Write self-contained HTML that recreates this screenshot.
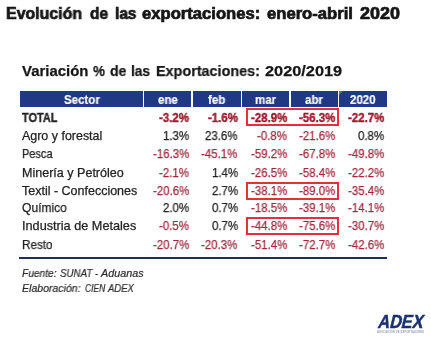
<!DOCTYPE html>
<html><head><meta charset="utf-8">
<style>
html,body{margin:0;padding:0;background:#fff;}
body{width:431px;height:343px;position:relative;overflow:hidden;font-family:"Liberation Sans",sans-serif;}
span{position:absolute;white-space:nowrap;line-height:1;transform-origin:0 0;will-change:transform;}
.hb{position:absolute;top:91px;height:16px;background:#1f3985;}
.rb{position:absolute;box-sizing:border-box;border:2px solid #e3303a;}
.bl{position:absolute;left:19px;top:256.5px;width:368px;height:2px;background:#1e2d5c;}
.gt{position:absolute;left:339px;top:91px;width:0;height:0;border-top:4px solid #2e9a3a;border-right:4px solid transparent;}
</style></head><body>
<div class="hb" style="left:20px;width:122.5px"></div><div class="hb" style="left:144px;width:47px"></div><div class="hb" style="left:192.5px;width:48.0px"></div><div class="hb" style="left:242px;width:47px"></div><div class="hb" style="left:290.5px;width:47.0px"></div><div class="hb" style="left:339px;width:48px"></div>
<div class="gt"></div>
<div class="bl"></div>
<div class="rb" style="left:245.7px;top:108.0px;width:93.10000000000002px;height:18.0px"></div><div class="rb" style="left:245.7px;top:182.0px;width:93.10000000000002px;height:17.5px"></div><div class="rb" style="left:245.7px;top:217.0px;width:93.10000000000002px;height:17.69999999999999px"></div>
<span style="left:6.00px;top:6.15px;font-size:16.00px;font-weight:bold;font-style:normal;color:#161616;letter-spacing:0px;transform:scaleX(0.9941);-webkit-text-stroke:0.7px #161616">Evolución</span><span style="left:89.70px;top:6.15px;font-size:16.00px;font-weight:bold;font-style:normal;color:#161616;letter-spacing:0px;transform:scaleX(0.9694);-webkit-text-stroke:0.7px #161616">de</span><span style="left:115.00px;top:6.15px;font-size:16.00px;font-weight:bold;font-style:normal;color:#161616;letter-spacing:0px;transform:scaleX(0.9622);-webkit-text-stroke:0.7px #161616">las</span><span style="left:142.00px;top:6.15px;font-size:16.00px;font-weight:bold;font-style:normal;color:#161616;letter-spacing:0px;transform:scaleX(1.0386);-webkit-text-stroke:0.7px #161616">exportaciones:</span><span style="left:266.90px;top:6.15px;font-size:16.00px;font-weight:bold;font-style:normal;color:#161616;letter-spacing:0px;transform:scaleX(1.0388);-webkit-text-stroke:0.7px #161616">enero-abril</span><span style="left:360.20px;top:6.15px;font-size:16.00px;font-weight:bold;font-style:normal;color:#161616;letter-spacing:0px;transform:scaleX(1.1236);-webkit-text-stroke:0.7px #161616">2020</span><span style="left:22.40px;top:64.06px;font-size:14.80px;font-weight:bold;font-style:normal;color:#161616;letter-spacing:0px;transform:scaleX(1.0089);-webkit-text-stroke:0.25px #1c1c1c">Variación</span><span style="left:93.30px;top:64.06px;font-size:14.80px;font-weight:bold;font-style:normal;color:#161616;letter-spacing:0px;transform:scaleX(0.9044);-webkit-text-stroke:0.25px #1c1c1c">%</span><span style="left:109.70px;top:64.06px;font-size:14.80px;font-weight:bold;font-style:normal;color:#161616;letter-spacing:0px;transform:scaleX(0.9495);-webkit-text-stroke:0.25px #1c1c1c">de</span><span style="left:130.60px;top:64.06px;font-size:14.80px;font-weight:bold;font-style:normal;color:#161616;letter-spacing:0px;transform:scaleX(0.9284);-webkit-text-stroke:0.25px #1c1c1c">las</span><span style="left:155.70px;top:64.06px;font-size:14.80px;font-weight:bold;font-style:normal;color:#161616;letter-spacing:0px;transform:scaleX(0.9718);-webkit-text-stroke:0.25px #1c1c1c">Exportaciones:</span><span style="left:264.80px;top:64.06px;font-size:14.80px;font-weight:bold;font-style:normal;color:#161616;letter-spacing:0px;transform:scaleX(1.1035);-webkit-text-stroke:0.25px #1c1c1c">2020/2019</span><span style="left:63.62px;top:93.84px;font-size:12.00px;font-weight:bold;font-style:normal;color:#ffffff;letter-spacing:0px;transform:scaleX(0.9600);-webkit-text-stroke:0.15px #fff">Sector</span><span style="left:157.88px;top:93.84px;font-size:12.00px;font-weight:bold;font-style:normal;color:#ffffff;letter-spacing:0px;transform:scaleX(0.9600);-webkit-text-stroke:0.15px #fff">ene</span><span style="left:208.16px;top:93.84px;font-size:12.00px;font-weight:bold;font-style:normal;color:#ffffff;letter-spacing:0px;transform:scaleX(0.9600);-webkit-text-stroke:0.15px #fff">feb</span><span style="left:255.24px;top:93.84px;font-size:12.00px;font-weight:bold;font-style:normal;color:#ffffff;letter-spacing:0px;transform:scaleX(0.9600);-webkit-text-stroke:0.15px #fff">mar</span><span style="left:305.34px;top:93.84px;font-size:12.00px;font-weight:bold;font-style:normal;color:#ffffff;letter-spacing:0px;transform:scaleX(0.9600);-webkit-text-stroke:0.15px #fff">abr</span><span style="left:350.48px;top:93.84px;font-size:12.00px;font-weight:bold;font-style:normal;color:#ffffff;letter-spacing:0px;transform:scaleX(0.9600);-webkit-text-stroke:0.15px #fff">2020</span><span style="left:21.80px;top:111.85px;font-size:12.10px;font-weight:bold;font-style:normal;color:#222222;letter-spacing:0px;transform:scaleX(0.9055);-webkit-text-stroke:0.35px #222222">TOTAL</span><span style="left:159.18px;top:111.85px;font-size:12.10px;font-weight:bold;font-style:normal;color:#9c1429;letter-spacing:0px;transform:scaleX(0.9500);-webkit-text-stroke:0.35px #9c1429">-3.2%</span><span style="left:207.78px;top:111.85px;font-size:12.10px;font-weight:bold;font-style:normal;color:#9c1429;letter-spacing:0px;transform:scaleX(0.9500);-webkit-text-stroke:0.35px #9c1429">-1.6%</span><span style="left:250.58px;top:111.85px;font-size:12.10px;font-weight:bold;font-style:normal;color:#9c1429;letter-spacing:0px;transform:scaleX(0.9500);-webkit-text-stroke:0.35px #9c1429">-28.9%</span><span style="left:298.98px;top:111.85px;font-size:12.10px;font-weight:bold;font-style:normal;color:#9c1429;letter-spacing:0px;transform:scaleX(0.9500);-webkit-text-stroke:0.35px #9c1429">-56.3%</span><span style="left:347.58px;top:111.85px;font-size:12.10px;font-weight:bold;font-style:normal;color:#9c1429;letter-spacing:0px;transform:scaleX(0.9500);-webkit-text-stroke:0.35px #9c1429">-22.7%</span><span style="left:22.00px;top:130.05px;font-size:12.10px;font-weight:normal;font-style:normal;color:#222222;letter-spacing:0px;transform:scaleX(1.0294);-webkit-text-stroke:0.25px #222222">Agro y forestal</span><span style="left:163.00px;top:130.05px;font-size:12.10px;font-weight:normal;font-style:normal;color:#222222;letter-spacing:0px;transform:scaleX(0.9500);-webkit-text-stroke:0.25px #222222">1.3%</span><span style="left:205.21px;top:130.05px;font-size:12.10px;font-weight:normal;font-style:normal;color:#222222;letter-spacing:0px;transform:scaleX(0.9500);-webkit-text-stroke:0.25px #222222">23.6%</span><span style="left:256.98px;top:130.05px;font-size:12.10px;font-weight:normal;font-style:normal;color:#9c2a3e;letter-spacing:0px;transform:scaleX(0.9500);-webkit-text-stroke:0.25px #9c2a3e">-0.8%</span><span style="left:298.98px;top:130.05px;font-size:12.10px;font-weight:normal;font-style:normal;color:#9c2a3e;letter-spacing:0px;transform:scaleX(0.9500);-webkit-text-stroke:0.25px #9c2a3e">-21.6%</span><span style="left:357.80px;top:130.05px;font-size:12.10px;font-weight:normal;font-style:normal;color:#222222;letter-spacing:0px;transform:scaleX(0.9500);-webkit-text-stroke:0.25px #222222">0.8%</span><span style="left:22.00px;top:147.95px;font-size:12.10px;font-weight:normal;font-style:normal;color:#222222;letter-spacing:0px;transform:scaleX(0.9067);-webkit-text-stroke:0.25px #222222">Pesca</span><span style="left:152.78px;top:147.95px;font-size:12.10px;font-weight:normal;font-style:normal;color:#9c2a3e;letter-spacing:0px;transform:scaleX(0.9500);-webkit-text-stroke:0.25px #9c2a3e">-16.3%</span><span style="left:201.38px;top:147.95px;font-size:12.10px;font-weight:normal;font-style:normal;color:#9c2a3e;letter-spacing:0px;transform:scaleX(0.9500);-webkit-text-stroke:0.25px #9c2a3e">-45.1%</span><span style="left:250.58px;top:147.95px;font-size:12.10px;font-weight:normal;font-style:normal;color:#9c2a3e;letter-spacing:0px;transform:scaleX(0.9500);-webkit-text-stroke:0.25px #9c2a3e">-59.2%</span><span style="left:298.98px;top:147.95px;font-size:12.10px;font-weight:normal;font-style:normal;color:#9c2a3e;letter-spacing:0px;transform:scaleX(0.9500);-webkit-text-stroke:0.25px #9c2a3e">-67.8%</span><span style="left:347.58px;top:147.95px;font-size:12.10px;font-weight:normal;font-style:normal;color:#9c2a3e;letter-spacing:0px;transform:scaleX(0.9500);-webkit-text-stroke:0.25px #9c2a3e">-49.8%</span><span style="left:22.00px;top:166.75px;font-size:12.10px;font-weight:normal;font-style:normal;color:#222222;letter-spacing:0px;transform:scaleX(1.0367);-webkit-text-stroke:0.25px #222222">Minería y Petróleo</span><span style="left:159.18px;top:166.75px;font-size:12.10px;font-weight:normal;font-style:normal;color:#9c2a3e;letter-spacing:0px;transform:scaleX(0.9500);-webkit-text-stroke:0.25px #9c2a3e">-2.1%</span><span style="left:211.60px;top:166.75px;font-size:12.10px;font-weight:normal;font-style:normal;color:#222222;letter-spacing:0px;transform:scaleX(0.9500);-webkit-text-stroke:0.25px #222222">1.4%</span><span style="left:250.58px;top:166.75px;font-size:12.10px;font-weight:normal;font-style:normal;color:#9c2a3e;letter-spacing:0px;transform:scaleX(0.9500);-webkit-text-stroke:0.25px #9c2a3e">-26.5%</span><span style="left:298.98px;top:166.75px;font-size:12.10px;font-weight:normal;font-style:normal;color:#9c2a3e;letter-spacing:0px;transform:scaleX(0.9500);-webkit-text-stroke:0.25px #9c2a3e">-58.4%</span><span style="left:347.58px;top:166.75px;font-size:12.10px;font-weight:normal;font-style:normal;color:#9c2a3e;letter-spacing:0px;transform:scaleX(0.9500);-webkit-text-stroke:0.25px #9c2a3e">-22.2%</span><span style="left:22.00px;top:184.95px;font-size:12.10px;font-weight:normal;font-style:normal;color:#222222;letter-spacing:0px;transform:scaleX(1.0328);-webkit-text-stroke:0.25px #222222">Textil - Confecciones</span><span style="left:152.78px;top:184.95px;font-size:12.10px;font-weight:normal;font-style:normal;color:#9c2a3e;letter-spacing:0px;transform:scaleX(0.9500);-webkit-text-stroke:0.25px #9c2a3e">-20.6%</span><span style="left:211.60px;top:184.95px;font-size:12.10px;font-weight:normal;font-style:normal;color:#222222;letter-spacing:0px;transform:scaleX(0.9500);-webkit-text-stroke:0.25px #222222">2.7%</span><span style="left:250.58px;top:184.95px;font-size:12.10px;font-weight:normal;font-style:normal;color:#9c2a3e;letter-spacing:0px;transform:scaleX(0.9500);-webkit-text-stroke:0.25px #9c2a3e">-38.1%</span><span style="left:298.98px;top:184.95px;font-size:12.10px;font-weight:normal;font-style:normal;color:#9c2a3e;letter-spacing:0px;transform:scaleX(0.9500);-webkit-text-stroke:0.25px #9c2a3e">-89.0%</span><span style="left:347.58px;top:184.95px;font-size:12.10px;font-weight:normal;font-style:normal;color:#9c2a3e;letter-spacing:0px;transform:scaleX(0.9500);-webkit-text-stroke:0.25px #9c2a3e">-35.4%</span><span style="left:22.00px;top:202.25px;font-size:12.10px;font-weight:normal;font-style:normal;color:#222222;letter-spacing:0px;transform:scaleX(0.9945);-webkit-text-stroke:0.25px #222222">Químico</span><span style="left:163.00px;top:202.25px;font-size:12.10px;font-weight:normal;font-style:normal;color:#222222;letter-spacing:0px;transform:scaleX(0.9500);-webkit-text-stroke:0.25px #222222">2.0%</span><span style="left:211.60px;top:202.25px;font-size:12.10px;font-weight:normal;font-style:normal;color:#222222;letter-spacing:0px;transform:scaleX(0.9500);-webkit-text-stroke:0.25px #222222">0.7%</span><span style="left:250.58px;top:202.25px;font-size:12.10px;font-weight:normal;font-style:normal;color:#9c2a3e;letter-spacing:0px;transform:scaleX(0.9500);-webkit-text-stroke:0.25px #9c2a3e">-18.5%</span><span style="left:298.98px;top:202.25px;font-size:12.10px;font-weight:normal;font-style:normal;color:#9c2a3e;letter-spacing:0px;transform:scaleX(0.9500);-webkit-text-stroke:0.25px #9c2a3e">-39.1%</span><span style="left:347.58px;top:202.25px;font-size:12.10px;font-weight:normal;font-style:normal;color:#9c2a3e;letter-spacing:0px;transform:scaleX(0.9500);-webkit-text-stroke:0.25px #9c2a3e">-14.1%</span><span style="left:22.00px;top:219.55px;font-size:12.10px;font-weight:normal;font-style:normal;color:#222222;letter-spacing:0px;transform:scaleX(1.0490);-webkit-text-stroke:0.25px #222222">Industria de Metales</span><span style="left:159.18px;top:219.55px;font-size:12.10px;font-weight:normal;font-style:normal;color:#9c2a3e;letter-spacing:0px;transform:scaleX(0.9500);-webkit-text-stroke:0.25px #9c2a3e">-0.5%</span><span style="left:211.60px;top:219.55px;font-size:12.10px;font-weight:normal;font-style:normal;color:#222222;letter-spacing:0px;transform:scaleX(0.9500);-webkit-text-stroke:0.25px #222222">0.7%</span><span style="left:250.58px;top:219.55px;font-size:12.10px;font-weight:normal;font-style:normal;color:#9c2a3e;letter-spacing:0px;transform:scaleX(0.9500);-webkit-text-stroke:0.25px #9c2a3e">-44.8%</span><span style="left:298.98px;top:219.55px;font-size:12.10px;font-weight:normal;font-style:normal;color:#9c2a3e;letter-spacing:0px;transform:scaleX(0.9500);-webkit-text-stroke:0.25px #9c2a3e">-75.6%</span><span style="left:347.58px;top:219.55px;font-size:12.10px;font-weight:normal;font-style:normal;color:#9c2a3e;letter-spacing:0px;transform:scaleX(0.9500);-webkit-text-stroke:0.25px #9c2a3e">-30.7%</span><span style="left:22.20px;top:238.55px;font-size:12.10px;font-weight:normal;font-style:normal;color:#222222;letter-spacing:0px;transform:scaleX(0.9682);-webkit-text-stroke:0.25px #222222">Resto</span><span style="left:152.78px;top:238.55px;font-size:12.10px;font-weight:normal;font-style:normal;color:#9c2a3e;letter-spacing:0px;transform:scaleX(0.9500);-webkit-text-stroke:0.25px #9c2a3e">-20.7%</span><span style="left:201.38px;top:238.55px;font-size:12.10px;font-weight:normal;font-style:normal;color:#9c2a3e;letter-spacing:0px;transform:scaleX(0.9500);-webkit-text-stroke:0.25px #9c2a3e">-20.3%</span><span style="left:250.58px;top:238.55px;font-size:12.10px;font-weight:normal;font-style:normal;color:#9c2a3e;letter-spacing:0px;transform:scaleX(0.9500);-webkit-text-stroke:0.25px #9c2a3e">-51.4%</span><span style="left:298.98px;top:238.55px;font-size:12.10px;font-weight:normal;font-style:normal;color:#9c2a3e;letter-spacing:0px;transform:scaleX(0.9500);-webkit-text-stroke:0.25px #9c2a3e">-72.7%</span><span style="left:347.58px;top:238.55px;font-size:12.10px;font-weight:normal;font-style:normal;color:#9c2a3e;letter-spacing:0px;transform:scaleX(0.9500);-webkit-text-stroke:0.25px #9c2a3e">-42.6%</span><span style="left:22.00px;top:268.11px;font-size:10.50px;font-weight:normal;font-style:italic;color:#2a2a2a;letter-spacing:0px;transform:scaleX(0.9718);-webkit-text-stroke:0.2px #2a2a2a">Fuente:</span><span style="left:60.10px;top:268.11px;font-size:10.50px;font-weight:normal;font-style:italic;color:#2a2a2a;letter-spacing:0px;transform:scaleX(0.9258);-webkit-text-stroke:0.2px #2a2a2a">SUNAT</span><span style="left:95.00px;top:268.11px;font-size:10.50px;font-weight:normal;font-style:italic;color:#2a2a2a;letter-spacing:0px;transform:scaleX(0.8294);-webkit-text-stroke:0.2px #2a2a2a">-</span><span style="left:101.44px;top:268.11px;font-size:10.50px;font-weight:normal;font-style:italic;color:#2a2a2a;letter-spacing:0px;transform:scaleX(1.0267);-webkit-text-stroke:0.2px #2a2a2a">Aduanas</span><span style="left:22.00px;top:282.72px;font-size:10.60px;font-weight:normal;font-style:italic;color:#2a2a2a;letter-spacing:0px;transform:scaleX(0.9928);-webkit-text-stroke:0.2px #2a2a2a">Elaboración:</span><span style="left:85.00px;top:282.72px;font-size:10.60px;font-weight:normal;font-style:italic;color:#2a2a2a;letter-spacing:0px;transform:scaleX(0.7973);-webkit-text-stroke:0.2px #2a2a2a">CIEN</span><span style="left:108.47px;top:282.72px;font-size:10.60px;font-weight:normal;font-style:italic;color:#2a2a2a;letter-spacing:0px;transform:scaleX(0.8946);-webkit-text-stroke:0.2px #2a2a2a">ADEX</span>
<svg style="position:absolute;left:360px;top:300px;will-change:transform" width="71" height="43" viewBox="0 0 71 43">
<g transform="translate(17.2,27.5) skewX(-14)">
<text x="0" y="0" font-family="Liberation Sans" font-weight="bold" font-size="18.9" fill="#1b3272" stroke="#1b3272" stroke-width="0.5" textLength="45" lengthAdjust="spacingAndGlyphs">ADEX</text>
</g>
<text x="17" y="32.8" font-family="Liberation Sans" font-weight="bold" font-size="2.8" fill="#9ea6bc" textLength="47" lengthAdjust="spacingAndGlyphs">ASOCIACION DE EXPORTADORES</text>
</svg>
</body></html>
